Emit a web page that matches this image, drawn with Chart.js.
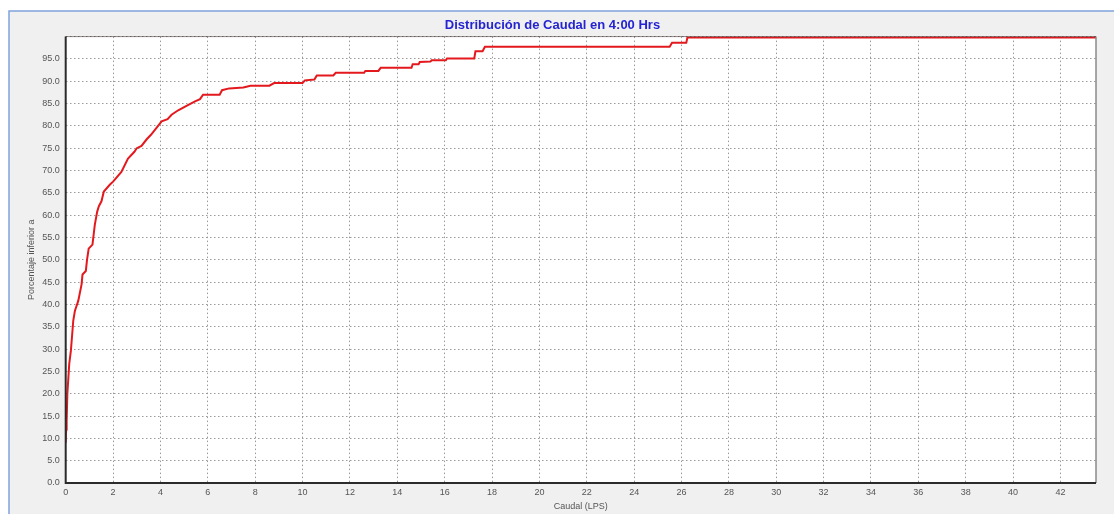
<!DOCTYPE html>
<html>
<head>
<meta charset="utf-8">
<script src="https://cdn.jsdelivr.net/npm/chart.js@4.4.1/dist/chart.umd.min.js"></script>
<style>
html,body{margin:0;padding:0;background:#ffffff;}
canvas{display:block;}
</style>
</head>
<body>
<canvas id="c" width="1114" height="514"></canvas>
<script>
// Data (Caudal in LPS vs cumulative percentage)
const caudal = [0, 0.02, 0.04, 0.07, 0.15, 0.22, 0.32, 0.39, 0.53, 0.67, 0.71, 0.85, 0.90, 0.97, 1.13, 1.23, 1.33, 1.40, 1.51, 1.61, 1.86, 2.0, 2.35, 2.63, 2.9, 3.0, 3.2, 3.42, 3.6, 3.9, 4.05, 4.3, 4.47, 4.75, 5.1, 5.46, 5.67, 5.8, 6.5, 6.6, 6.9, 7.5, 7.8, 8.6, 8.8, 10.0, 10.1, 10.5, 10.6, 11.3, 11.4, 12.6, 12.65, 13.2, 13.3, 14.6, 14.65, 14.9, 14.95, 15.4, 15.45, 16.05, 16.1, 17.25, 17.3, 17.6, 17.7, 25.5, 25.6, 26.2, 26.25, 43.5];
const porcentaje = [9, 12, 14, 20, 26.7, 29.7, 36.4, 38.6, 40.8, 44.5, 46.7, 47.5, 50, 52.5, 53.4, 57.9, 60.8, 62, 63.1, 65.3, 66.8, 67.5, 69.7, 72.7, 74.2, 75, 75.5, 77, 78, 80, 81, 81.5, 82.5, 83.5, 84.5, 85.5, 86, 87, 87, 88, 88.4, 88.6, 89.0, 89.0, 89.6, 89.6, 90.2, 90.4, 91.3, 91.3, 91.9, 91.9, 92.3, 92.3, 93.0, 93.0, 93.8, 93.8, 94.3, 94.4, 94.7, 94.7, 95.1, 95.1, 96.7, 96.7, 97.7, 97.7, 98.6, 98.6, 99.8, 99.8];
const tituloGrafico = 'Distribución de Caudal en 4:00 Hrs';
const tituloX = 'Caudal (LPS)';
const tituloY = 'Porcentaje inferior a';
const xMax = 43.5;
const yMax = 100;

const points = caudal.map((x, i) => ({x: x, y: porcentaje[i]}));

const framePlugin = {
  id: 'frame',
  beforeDraw(chart) {
    const ctx = chart.ctx;
    const W = chart.width, H = chart.height;
    ctx.save();
    ctx.fillStyle = '#ffffff';
    ctx.fillRect(0, 0, W, H);
    ctx.fillStyle = '#f0f0f0';
    ctx.fillRect(9, 11, W - 9, H - 11);
    ctx.strokeStyle = '#7fa3dc';
    ctx.lineWidth = 1.5;
    ctx.beginPath();
    ctx.moveTo(9, H);
    ctx.lineTo(9, 11);
    ctx.lineTo(W, 11);
    ctx.stroke();
    const a = chart.chartArea;
    ctx.fillStyle = '#ffffff';
    ctx.fillRect(a.left, a.top, a.right - a.left, a.bottom - a.top);
    ctx.restore();
  },
  afterDatasetsDraw(chart) {
    const ctx = chart.ctx;
    const a = chart.chartArea;
    ctx.save();
    ctx.strokeStyle = '#8a8a8a';
    ctx.lineWidth = 1.5;
    ctx.beginPath();
    ctx.moveTo(a.right, a.top);
    ctx.lineTo(a.right, a.bottom);
    ctx.stroke();
    ctx.strokeStyle = '#2b2b2b';
    ctx.lineWidth = 2;
    ctx.beginPath();
    ctx.moveTo(a.left, a.top);
    ctx.lineTo(a.left, a.bottom);
    ctx.lineTo(a.right, a.bottom);
    ctx.stroke();
    ctx.strokeStyle = 'rgba(60,40,40,0.55)';
    ctx.lineWidth = 1;
    ctx.beginPath();
    ctx.moveTo(a.left, a.top);
    ctx.lineTo(a.right, a.top);
    ctx.stroke();
    ctx.restore();
  }
};

new Chart(document.getElementById('c'), {
  type: 'line',
  data: {
    datasets: [{
      data: points,
      borderColor: '#e3191e',
      borderWidth: 2,
      pointRadius: 0,
      tension: 0,
      fill: false
    }]
  },
  options: {
    responsive: false,
    animation: false,
    layout: { padding: { top: 11, left: 9, right: 18, bottom: 0 } },
    plugins: {
      legend: { display: false },
      tooltip: { enabled: false },
      title: {
        display: true,
        text: tituloGrafico,
        color: '#2424d2',
        font: { family: '"Liberation Sans", Arial, sans-serif', size: 13, weight: 'bold' },
        padding: { top: 7, bottom: 3 }
      }
    },
    scales: {
      x: {
        type: 'linear',
        min: 0,
        max: xMax,
        afterFit(s) { s.height = 31; },
        ticks: {
          stepSize: 2,
          includeBounds: false,
          maxRotation: 0,
          autoSkip: false,
          padding: 4,
          color: '#555555',
          font: { family: '"Liberation Sans", Arial, sans-serif', size: 9 },
          callback: v => String(v)
        },
        grid: { color: '#9a9a9a', lineWidth: 1, drawTicks: false },
        border: { display: false, dash: [1.5, 2.5] },
        title: {
          display: true,
          text: tituloX,
          color: '#555555',
          font: { family: '"Liberation Sans", Arial, sans-serif', size: 9 },
          padding: { top: 0, bottom: 2 }
        }
      },
      y: {
        type: 'linear',
        min: 0,
        max: yMax,
        afterFit(s) { s.width = 56.7; },
        ticks: {
          stepSize: 5,
          includeBounds: false,
          autoSkip: false,
          padding: 6,
          color: '#555555',
          font: { family: '"Liberation Sans", Arial, sans-serif', size: 9 },
          callback: v => (v >= 100 ? '' : v.toFixed(1))
        },
        grid: { color: '#9a9a9a', lineWidth: 1, drawTicks: false },
        border: { display: false, dash: [1.5, 2.5] },
        title: {
          display: true,
          text: tituloY,
          color: '#555555',
          font: { family: '"Liberation Sans", Arial, sans-serif', size: 9 },
          padding: { top: 17, bottom: 0 }
        }
      }
    }
  },
  plugins: [framePlugin]
});
</script>
</body>
</html>
